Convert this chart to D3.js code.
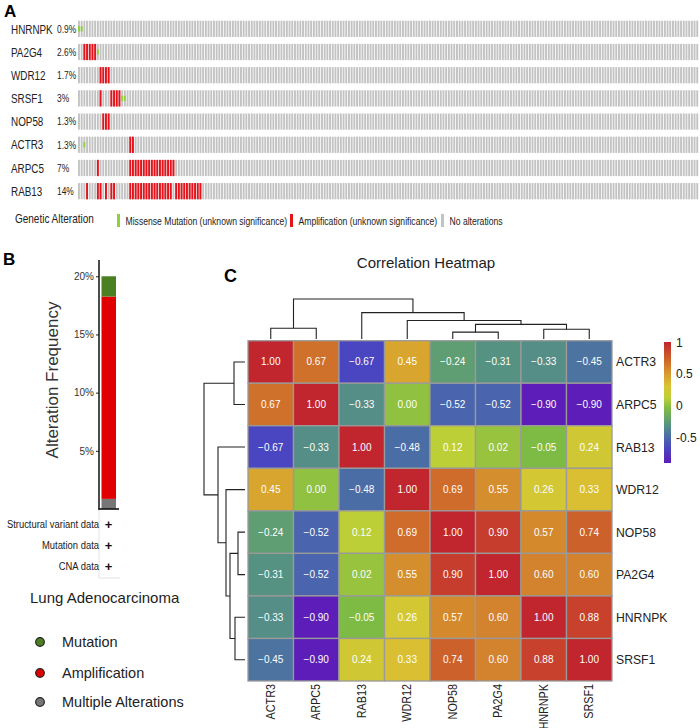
<!DOCTYPE html>
<html>
<head>
<meta charset="utf-8">
<script src="https://cdn.jsdelivr.net/npm/d3@7"></script>
<style>
  body { margin: 0; background: #fff; }
  svg text { font-family: "Liberation Sans", Arial, sans-serif; }
</style>
</head>
<body>
<svg width="700" height="728"></svg>
<script>
// ---- panel A: oncoprint ----
var nSamples = 230
var oncoGenes = ["HNRNPK", "PA2G4", "WDR12", "SRSF1", "NOP58", "ACTR3", "ARPC5", "RAB13"]
var oncoPct = ["0.9%", "2.6%", "1.7%", "3%", "1.3%", "1.3%", "7%", "14%"]
var ampCols = {
    HNRNPK: [],
    PA2G4: [2, 3, 4, 5, 6],
    WDR12: [8, 9, 10, 11],
    SRSF1: [8, 12, 13, 14, 15],
    NOP58: [9, 10, 11],
    ACTR3: [19, 20],
    ARPC5: [7, 19, 20, 21, 22, 23, 24, 25, 26, 27, 28, 29, 30, 31, 32, 33, 34, 35],
    RAB13: [3, 7, 8, 10, 12, 13, 19, 20, 21, 22, 23, 24, 25, 26, 27, 28, 29, 30, 31, 32, 33, 34,
            36, 37, 38, 39, 40, 41, 42, 43, 44, 45]
}
var mutCols = {
    HNRNPK: [0, 1], PA2G4: [7], WDR12: [], SRSF1: [16, 17],
    NOP58: [], ACTR3: [2], ARPC5: [], RAB13: []
}
var legendA = ["Missense Mutation (unknown significance)", "Amplification (unknown significance)", "No alterations"]

// ---- panel B: alteration frequency ----
var freqCats = ["Multiple Alterations", "Amplification", "Mutation"]
var freqVals = [0.87, 17.39, 1.74]
var freqTicks = [5, 10, 15, 20]
var dataTypes = ["Structural variant data", "Mutation data", "CNA data"]

// ---- panel C: correlation heatmap ----
var genes = ["ACTR3", "ARPC5", "RAB13", "WDR12", "NOP58", "PA2G4", "HNRNPK", "SRSF1"]
var corr = [
    [1.00, 0.67, -0.67, 0.45, -0.24, -0.31, -0.33, -0.45],
    [0.67, 1.00, -0.33, 0.00, -0.52, -0.52, -0.90, -0.90],
    [-0.67, -0.33, 1.00, -0.48, 0.12, 0.02, -0.05, 0.24],
    [0.45, 0.00, -0.48, 1.00, 0.69, 0.55, 0.26, 0.33],
    [-0.24, -0.52, 0.12, 0.69, 1.00, 0.90, 0.57, 0.74],
    [-0.31, -0.52, 0.02, 0.55, 0.90, 1.00, 0.60, 0.60],
    [-0.33, -0.90, -0.05, 0.26, 0.57, 0.60, 1.00, 0.88],
    [-0.45, -0.90, 0.24, 0.33, 0.74, 0.60, 0.88, 1.00]
]
// cluster tree, heights of merges
var tree = {h: 4.1, children: [
    {h: 1.1, children: [{name: "ACTR3"}, {name: "ARPC5"}]},
    {h: 2.7, children: [
        {name: "RAB13"},
        {h: 1.9, children: [
            {name: "WDR12"},
            {h: 1.5, children: [
                {h: 0.7, children: [{name: "NOP58"}, {name: "PA2G4"}]},
                {h: 1.0, children: [{name: "HNRNPK"}, {name: "SRSF1"}]}
            ]}
        ]}
    ]}
]}
var colorStops = [-0.9, -0.67, -0.5, -0.3, -0.05, 0.12, 0.3, 0.5, 0.7, 1.0]
var colorVals = ["#5c1db8", "#4a45c0", "#4a69aa", "#569480", "#7dbb45", "#bccf37", "#d9c532", "#d79a2e", "#cf6a2b", "#c1262e"]
var barTicks = [1, 0.5, 0, -0.5]

var svg = d3.select("svg")

// condensed text (no narrow font installed, so squeeze horizontally)
function ntext(x, y, size, txt, sx, anchor) {
    return svg.append("text")
        .attr("transform", "translate(" + x + "," + y + ") scale(" + sx + ",1)")
        .attr("font-size", size).attr("fill", "#222")
        .attr("text-anchor", anchor || "start").text(txt)
}

// ===== A =====
svg.append("text").attr("x", 4).attr("y", 17).attr("font-size", 17).attr("font-weight", "bold").text("A")

var xA = d3.scaleLinear().domain([0, nSamples]).range([78, 699])
var yA = d3.scaleBand().domain(oncoGenes).range([20.7, 199.3]).paddingInner(0.3)
var colW = xA(1) - xA(0)

oncoGenes.forEach(function(g, i) {
    var yc = yA(g) + yA.bandwidth() / 2
    ntext(11, yc + 4.7, 13, g, 0.76)
    ntext(57, yc + 3.8, 10.5, oncoPct[i], 0.8)
    var row = svg.append("g").attr("transform", "translate(0," + yA(g) + ")")
    row.selectAll("rect.na").data(d3.range(nSamples)).enter().append("rect")
        .attr("x", d => xA(d)).attr("y", 0).attr("width", colW - 0.8).attr("height", yA.bandwidth())
        .attr("fill", "#c3c3c3")
    row.selectAll("rect.amp").data(ampCols[g]).enter().append("rect")
        .attr("x", d => xA(d)).attr("y", 0).attr("width", colW - 0.8).attr("height", yA.bandwidth())
        .attr("fill", "#e8121a")
    row.selectAll("rect.mut").data(mutCols[g]).enter().append("rect")
        .attr("x", d => xA(d)).attr("y", yA.bandwidth() / 3).attr("width", colW - 0.8).attr("height", yA.bandwidth() / 3)
        .attr("fill", "#8fd03c")
})

ntext(15, 223, 12.5, "Genetic Alteration", 0.8)
var legX = [117, 290, 441]
var legColor = ["#c3c3c3", "#e8121a", "#c3c3c3"]
legendA.forEach(function(t, i) {
    svg.append("rect").attr("x", legX[i]).attr("y", 214).attr("width", 3).attr("height", 13).attr("fill", legColor[i])
    if (i == 0) {
        svg.append("rect").attr("x", legX[i]).attr("y", 214).attr("width", 3).attr("height", 13).attr("fill", "#8fd03c")
    }
    ntext(legX[i] + 8.5, 224.5, 10.5, t, 0.82)
})

// ===== B =====
svg.append("text").attr("x", 3).attr("y", 265).attr("font-size", 17).attr("font-weight", "bold").text("B")

var yB = d3.scaleLinear().domain([0, 21.4]).range([509, 260])
var stacked = d3.stack().keys(freqCats)([Object.fromEntries(freqCats.map((c, i) => [c, freqVals[i]]))])
var freqColor = d3.scaleOrdinal().domain(freqCats).range(["#767676", "#e00000", "#4a7f22"])
svg.append("g").selectAll("rect").data(stacked).enter().append("rect")
    .attr("x", 101.5).attr("width", 14.5)
    .attr("y", d => yB(d[0][1])).attr("height", d => yB(d[0][0]) - yB(d[0][1]))
    .attr("fill", d => freqColor(d.key))

var axB = svg.append("g").attr("transform", "translate(99,0)")
    .call(d3.axisLeft(yB).tickValues(freqTicks).tickSize(3).tickPadding(2).tickFormat(d => d + "%"))
axB.select(".domain").remove()
axB.selectAll("text").attr("font-size", 10).attr("fill", "#333")
axB.selectAll("line").attr("stroke", "#222")
svg.append("line").attr("x1", 99).attr("x2", 99).attr("y1", 260).attr("y2", 509.5).attr("stroke", "#111").attr("stroke-width", 1.5)
svg.append("line").attr("x1", 98.3).attr("x2", 119).attr("y1", 509).attr("y2", 509).attr("stroke", "#111").attr("stroke-width", 1.6)
svg.append("text").attr("transform", "translate(58,380) rotate(-90)").attr("text-anchor", "middle")
    .attr("font-size", 17).attr("fill", "#333").text("Alteration Frequency")

svg.append("line").attr("x1", 99).attr("x2", 99).attr("y1", 510).attr("y2", 578).attr("stroke", "#e2e2e2")
svg.append("line").attr("x1", 99).attr("x2", 120).attr("y1", 578).attr("y2", 578).attr("stroke", "#e2e2e2")
dataTypes.forEach(function(t, i) {
    var y = 524 + i * 21
    ntext(99, y + 3.5, 11.5, t, 0.82, "end")
    svg.append("text").attr("x", 108.5).attr("y", y + 4.5).attr("text-anchor", "middle")
        .attr("font-size", 13).attr("font-weight", "bold").attr("fill", "#111").text("+")
})
svg.append("text").attr("x", 30).attr("y", 603).attr("font-size", 15).attr("fill", "#222").text("Lung Adenocarcinoma")

var legB = ["Mutation", "Amplification", "Multiple Alterations"]
var legBy = [642, 673, 702]
var legBc = ["#4a7f22", "#e00000", "#767676"]
legB.forEach(function(t, i) {
    svg.append("circle").attr("cx", 40).attr("cy", legBy[i]).attr("r", 4.3)
        .attr("fill", legBc[i]).attr("stroke", "#222").attr("stroke-width", 1.2)
    svg.append("text").attr("x", 62).attr("y", legBy[i] + 5).attr("font-size", 14.5).attr("fill", "#222").text(t)
})

// ===== C =====
svg.append("text").attr("x", 224).attr("y", 282).attr("font-size", 18).attr("font-weight", "bold").text("C")
svg.append("text").attr("x", 426).attr("y", 268).attr("text-anchor", "middle").attr("font-size", 15)
    .attr("fill", "#222").text("Correlation Heatmap")

var xC = d3.scaleBand().domain(genes).range([248, 612])
var yC = d3.scaleBand().domain(genes).range([340.7, 681])
var color = d3.scaleLinear().domain(colorStops).range(colorVals).clamp(true)
var fmt = v => (v < 0 ? "\u2212" : "") + Math.abs(v).toFixed(2)

var cells = []
genes.forEach((r, i) => genes.forEach((c, j) => cells.push({r: r, c: c, v: corr[i][j]})))
var hm = svg.append("g")
hm.selectAll("rect").data(cells).enter().append("rect")
    .attr("x", d => xC(d.c)).attr("y", d => yC(d.r))
    .attr("width", xC.bandwidth()).attr("height", yC.bandwidth())
    .attr("fill", d => color(d.v)).attr("stroke", "#9a9a9a").attr("stroke-width", 1.3)
hm.selectAll("text").data(cells).enter().append("text")
    .attr("x", d => xC(d.c) + xC.bandwidth() / 2).attr("y", d => yC(d.r) + yC.bandwidth() / 2 + 3.5)
    .attr("text-anchor", "middle").attr("font-size", 10).attr("fill", "#fff").text(d => fmt(d.v))

genes.forEach(function(g) {
    svg.append("text").attr("x", 616).attr("y", yC(g) + yC.bandwidth() / 2 + 4.5)
        .attr("font-size", 12.2).attr("fill", "#222").text(g)
    svg.append("text").attr("transform", "translate(" + (xC(g) + xC.bandwidth() / 2 + 4) + ",684) rotate(-90) scale(0.9,1)")
        .attr("text-anchor", "end").attr("font-size", 12).attr("fill", "#222").text(g)
})

// dendrograms
var root = d3.hierarchy(tree)
var hMax = tree.h
var hTop = d3.scaleLinear().domain([0, hMax]).range([339, 299])
var hLeft = d3.scaleLinear().domain([0, hMax]).range([245, 204])
function pos(n) {
    if (!n.children) return xC(n.data.name) + xC.bandwidth() / 2
    return (pos(n.children[0]) + pos(n.children[1])) / 2
}
function posR(n) {
    if (!n.children) return yC(n.data.name) + yC.bandwidth() / 2
    return (posR(n.children[0]) + posR(n.children[1])) / 2
}
var dTop = [], dLeft = []
root.each(function(n) {
    if (!n.children) return
    var h = n.data.h
    var a = n.children[0], b = n.children[1]
    var ha = a.children ? a.data.h : 0, hb = b.children ? b.data.h : 0
    dTop.push("M" + pos(a) + "," + hTop(ha) + "V" + hTop(h) + "H" + pos(b) + "V" + hTop(hb))
    dLeft.push("M" + hLeft(ha) + "," + posR(a) + "H" + hLeft(h) + "V" + posR(b) + "H" + hLeft(hb))
})
svg.append("g").selectAll("path").data(dTop.concat(dLeft)).enter().append("path")
    .attr("d", d => d).attr("fill", "none").attr("stroke", "#222").attr("stroke-width", 1.1)

// colour bar
var cbTop = 342, cbBot = 463
var cbScale = d3.scaleLinear().domain([1, -0.9]).range([cbTop, cbBot])
var grad = svg.append("defs").append("linearGradient").attr("id", "cb")
    .attr("x1", 0).attr("x2", 0).attr("y1", 0).attr("y2", 1)
colorStops.map((s, i) => ({o: (cbScale(s) - cbTop) / (cbBot - cbTop), c: colorVals[i]}))
    .sort((a, b) => a.o - b.o)
    .forEach(function(s) { grad.append("stop").attr("offset", s.o).attr("stop-color", s.c) })
svg.append("rect").attr("x", 664).attr("y", cbTop).attr("width", 7).attr("height", cbBot - cbTop).attr("fill", "url(#cb)")
barTicks.forEach(function(t) {
    svg.append("text").attr("x", 676).attr("y", cbScale(t) + 4.5).attr("font-size", 12).attr("fill", "#222")
        .text(t)
})
</script>
</body>
</html>
